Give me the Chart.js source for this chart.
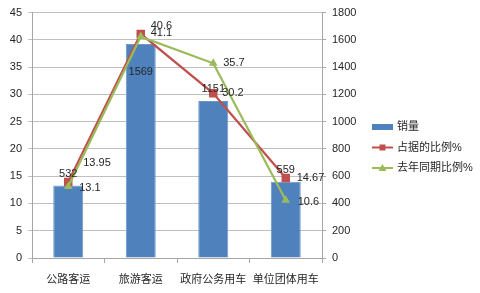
<!DOCTYPE html>
<html>
<head>
<meta charset="utf-8">
<script src="https://cdn.jsdelivr.net/npm/chart.js@4"></script>
<style>
  html, body { margin: 0; padding: 0; background: #fff; }
  #wrap { width: 480px; height: 293px; }
</style>
</head>
<body>
<div id="wrap"><canvas id="salesChart" width="480" height="293"></canvas></div>
<script>
// categories and series
let categories = ['公路客运', '旅游客运', '政府公务用车', '单位团体用车'];
let sales = [532, 1569, 1151, 559];          // 销量 (right axis)
let share = [13.95, 41.1, 30.2, 14.67];      // 占据的比例%
let lastYear = [13.1, 40.6, 35.7, 10.6];     // 去年同期比例%

let FONT = '"Liberation Sans", "Noto Sans CJK SC", sans-serif';
let BLUE = '#4F81BD', RED = '#C0504D', GREEN = '#9BBB59';

// label offsets per dataset (px, relative to the point)
let labelOffsets = [
    [[0, -12], [0, 28], [0, -12], [0, -12]],
    [[15, -19], [10, -1], [9, 0], [11, 0]],
    [[11, 1], [10, -11], [10, 0], [12, 2]]
];

let valueLabels = {
    id: 'valueLabels',
    afterDatasetsDraw(chart) {
        let ctx = chart.ctx;
        ctx.save();
        ctx.font = '11px ' + FONT;
        ctx.fillStyle = '#262626';
        ctx.textBaseline = 'middle';
        chart.data.datasets.forEach(function (ds, i) {
            let meta = chart.getDatasetMeta(i);
            meta.data.forEach(function (el, j) {
                let off = labelOffsets[i][j];
                ctx.textAlign = ds.type == 'bar' ? 'center' : 'left';
                ctx.fillText(String(ds.data[j]), el.x + off[0], el.y + off[1]);
            });
        });
        ctx.restore();
    }
};

let sideLegend = {
    id: 'sideLegend',
    afterDraw(chart) {
        let ctx = chart.ctx;
        let x = 372, y = 127;
        ctx.save();
        ctx.font = '11px ' + FONT;
        ctx.textBaseline = 'middle';
        ctx.textAlign = 'left';
        chart.data.datasets.forEach(function (ds, i) {
            let yy = y + i * 20.5;
            if (ds.type == 'bar') {
                ctx.fillStyle = BLUE;
                ctx.fillRect(x, yy - 3, 21, 6);
            } else {
                ctx.strokeStyle = ds.borderColor;
                ctx.lineWidth = 2;
                ctx.beginPath();
                ctx.moveTo(x, yy);
                ctx.lineTo(x + 21, yy);
                ctx.stroke();
                ctx.fillStyle = ds.borderColor;
                if (ds.pointStyle == 'rect') {
                    ctx.fillRect(x + 7.5, yy - 3, 6, 6);
                } else {
                    ctx.beginPath();
                    ctx.moveTo(x + 10.5, yy - 4);
                    ctx.lineTo(x + 14.5, yy + 3);
                    ctx.lineTo(x + 6.5, yy + 3);
                    ctx.closePath();
                    ctx.fill();
                }
            }
            ctx.fillStyle = '#262626';
            ctx.fillText(ds.label, x + 25, yy);
        });
        ctx.restore();
    }
};

let ctx = document.getElementById('salesChart').getContext('2d');
let salesChart = new Chart(ctx, {
    type: 'bar',
    data: {
        labels: categories,
        datasets: [{
            type: 'bar',
            label: '销量',
            data: sales,
            yAxisID: 'y1',
            backgroundColor: BLUE,
            borderColor: '#6f96c8',
            borderWidth: 1,
            barPercentage: 0.414,
            categoryPercentage: 1,
            order: 3
        }, {
            type: 'line',
            label: '占据的比例%',
            data: share,
            yAxisID: 'y',
            borderColor: RED,
            backgroundColor: RED,
            borderWidth: 2.25,
            pointStyle: 'rect',
            pointRadius: 6,
            pointBorderWidth: 0,
            tension: 0,
            order: 2
        }, {
            type: 'line',
            label: '去年同期比例%',
            data: lastYear,
            yAxisID: 'y',
            borderColor: GREEN,
            backgroundColor: GREEN,
            borderWidth: 2.25,
            pointStyle: 'triangle',
            pointRadius: 5,
            pointBorderWidth: 0,
            tension: 0,
            order: 1
        }]
    },
    options: {
        responsive: false,
        animation: false,
        devicePixelRatio: 1,
        layout: { padding: { top: 6, right: 118, bottom: 0, left: 0 } },
        plugins: {
            legend: { display: false },
            tooltip: { enabled: false }
        },
        scales: {
            x: {
                offset: true,
                grid: {
                    offset: true,
                    drawOnChartArea: false,
                    tickLength: 5,
                    color: '#a6a6a6'
                },
                border: { color: '#a6a6a6' },
                ticks: {
                    color: '#262626',
                    font: { size: 11, family: FONT },
                    padding: 10,
                    maxRotation: 0,
                    autoSkip: false
                },
                afterFit: function (s) { s.height = 35; }
            },
            y: {
                position: 'left',
                min: 0,
                max: 45,
                ticks: {
                    stepSize: 5,
                    color: '#262626',
                    font: { size: 11, family: FONT },
                    padding: 6
                },
                grid: { color: '#c0c0c0', tickLength: 4 },
                border: { color: '#a6a6a6' },
                afterFit: function (s) { s.width = 32; }
            },
            y1: {
                position: 'right',
                min: 0,
                max: 1800,
                ticks: {
                    stepSize: 200,
                    color: '#262626',
                    font: { size: 11, family: FONT },
                    padding: 6,
                    callback: function (v) { return String(v); }
                },
                grid: { drawOnChartArea: false, color: '#a6a6a6', tickLength: 4 },
                border: { color: '#a6a6a6' },
                afterFit: function (s) { s.width = 40; }
            }
        }
    },
    plugins: [valueLabels, sideLegend]
});
</script>
</body>
</html>
